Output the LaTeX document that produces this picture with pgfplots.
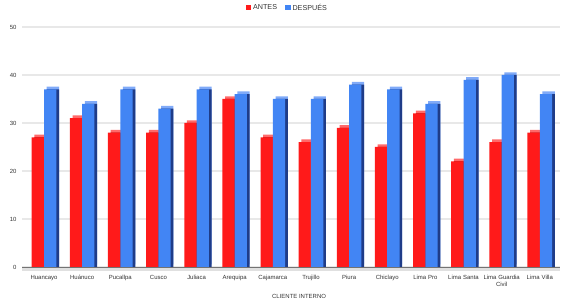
\documentclass[border=0pt]{standalone}
\usepackage{fontspec}
\setmainfont{Liberation Sans}
\usepackage{pgfplots}
\usepackage{pgfplotstable}
\pgfplotsset{compat=1.18}
\definecolor{cred}{HTML}{FF1A1A}
\definecolor{credtop}{HTML}{FF6A6A}
\definecolor{credside}{HTML}{A30000}
\definecolor{cblue}{HTML}{4285F4}
\definecolor{cbluetop}{HTML}{80AAF8}
\definecolor{cblueside}{HTML}{1F3C88}
\definecolor{ctxt}{HTML}{333333}
\pgfplotstableread{
x antes despues
0 27 37
1 31 34
2 28 37
3 28 33
4 30 37
5 35 36
6 27 35
7 26 35
8 29 38
9 25 37
10 32 34
11 22 39
12 26 40
13 28 36
}\datatable
\begin{document}
\begin{tikzpicture}
\useasboundingbox (0,0) rectangle (564bp,306bp);
\begin{axis}[
  at={(22bp,39bp)}, anchor=south west,
  scale only axis, width=538bp, height=240bp,
  xmin=-0.577, xmax=13.53, ymin=0, ymax=50,
  axis line style={draw=none},
  major tick length=0pt,
  ytick={0,10,...,50},
  ymajorgrids, grid style={draw=black!9, line width=1.2bp},
  xtick={0,...,13},
  xticklabels={Huancayo,Huánuco,Pucallpa,Cusco,Juliaca,Arequipa,Cajamarca,Trujillo,Piura,Chiclayo,Lima Pro,Lima Santa,Lima Guardia Civil,Lima Villa},
  xticklabel style={font=\fontsize{6}{6.8}\selectfont, text=ctxt, text width=40bp, align=center, anchor=north, yshift=-5bp},
  yticklabel style={font=\fontsize{6}{7}\selectfont, text=ctxt, anchor=east, xshift=-2bp},
  /pgf/number format/assume math mode=true,
  xlabel={CLIENTE INTERNO},
  xlabel style={font=\fontsize{6}{7}\selectfont, text=ctxt, at={(axis description cs:0.515,0)}, anchor=north, yshift=-24bp},
  legend image code/.code={\fill[#1] (0bp,-2.7bp) rectangle (5.5bp,2.7bp);},
  legend style={at={(axis description cs:0.493,1.08)}, anchor=center, draw=none, fill=none, font=\fontsize{7.2}{8}\selectfont, text=ctxt, /tikz/every even column/.append style={column sep=6bp}},
  legend columns=2,
  clip=false,
]
\fill[black!12] (rel axis cs:0,0) rectangle ([yshift=-3.5bp]rel axis cs:1,0);
\addplot[ybar, bar width=12.3bp, bar shift=-3.45bp, fill=credtop, draw=none, yshift=2.7bp, forget plot] table[x=x,y=antes]{\datatable};
\addplot[ybar, bar width=12.3bp, bar shift=-3.45bp, fill=credside, draw=none, forget plot] table[x=x,y=antes]{\datatable};
\addplot[ybar, bar width=12.3bp, bar shift=-6.15bp, fill=cred, draw=none] table[x=x,y=antes]{\datatable};
\addlegendentry{ANTES}
\addplot[ybar, bar width=12.3bp, bar shift=8.85bp, fill=cbluetop, draw=none, yshift=2.7bp, forget plot] table[x=x,y=despues]{\datatable};
\addplot[ybar, bar width=12.3bp, bar shift=8.85bp, fill=cblueside, draw=none, forget plot] table[x=x,y=despues]{\datatable};
\addplot[ybar, bar width=12.3bp, bar shift=6.15bp, fill=cblue, draw=none] table[x=x,y=despues]{\datatable};
\addlegendentry{DESPUÉS}
\draw[black!55, line width=0.8bp] (rel axis cs:0,0) -- (rel axis cs:1,0);
\end{axis}
\end{tikzpicture}
\end{document}
